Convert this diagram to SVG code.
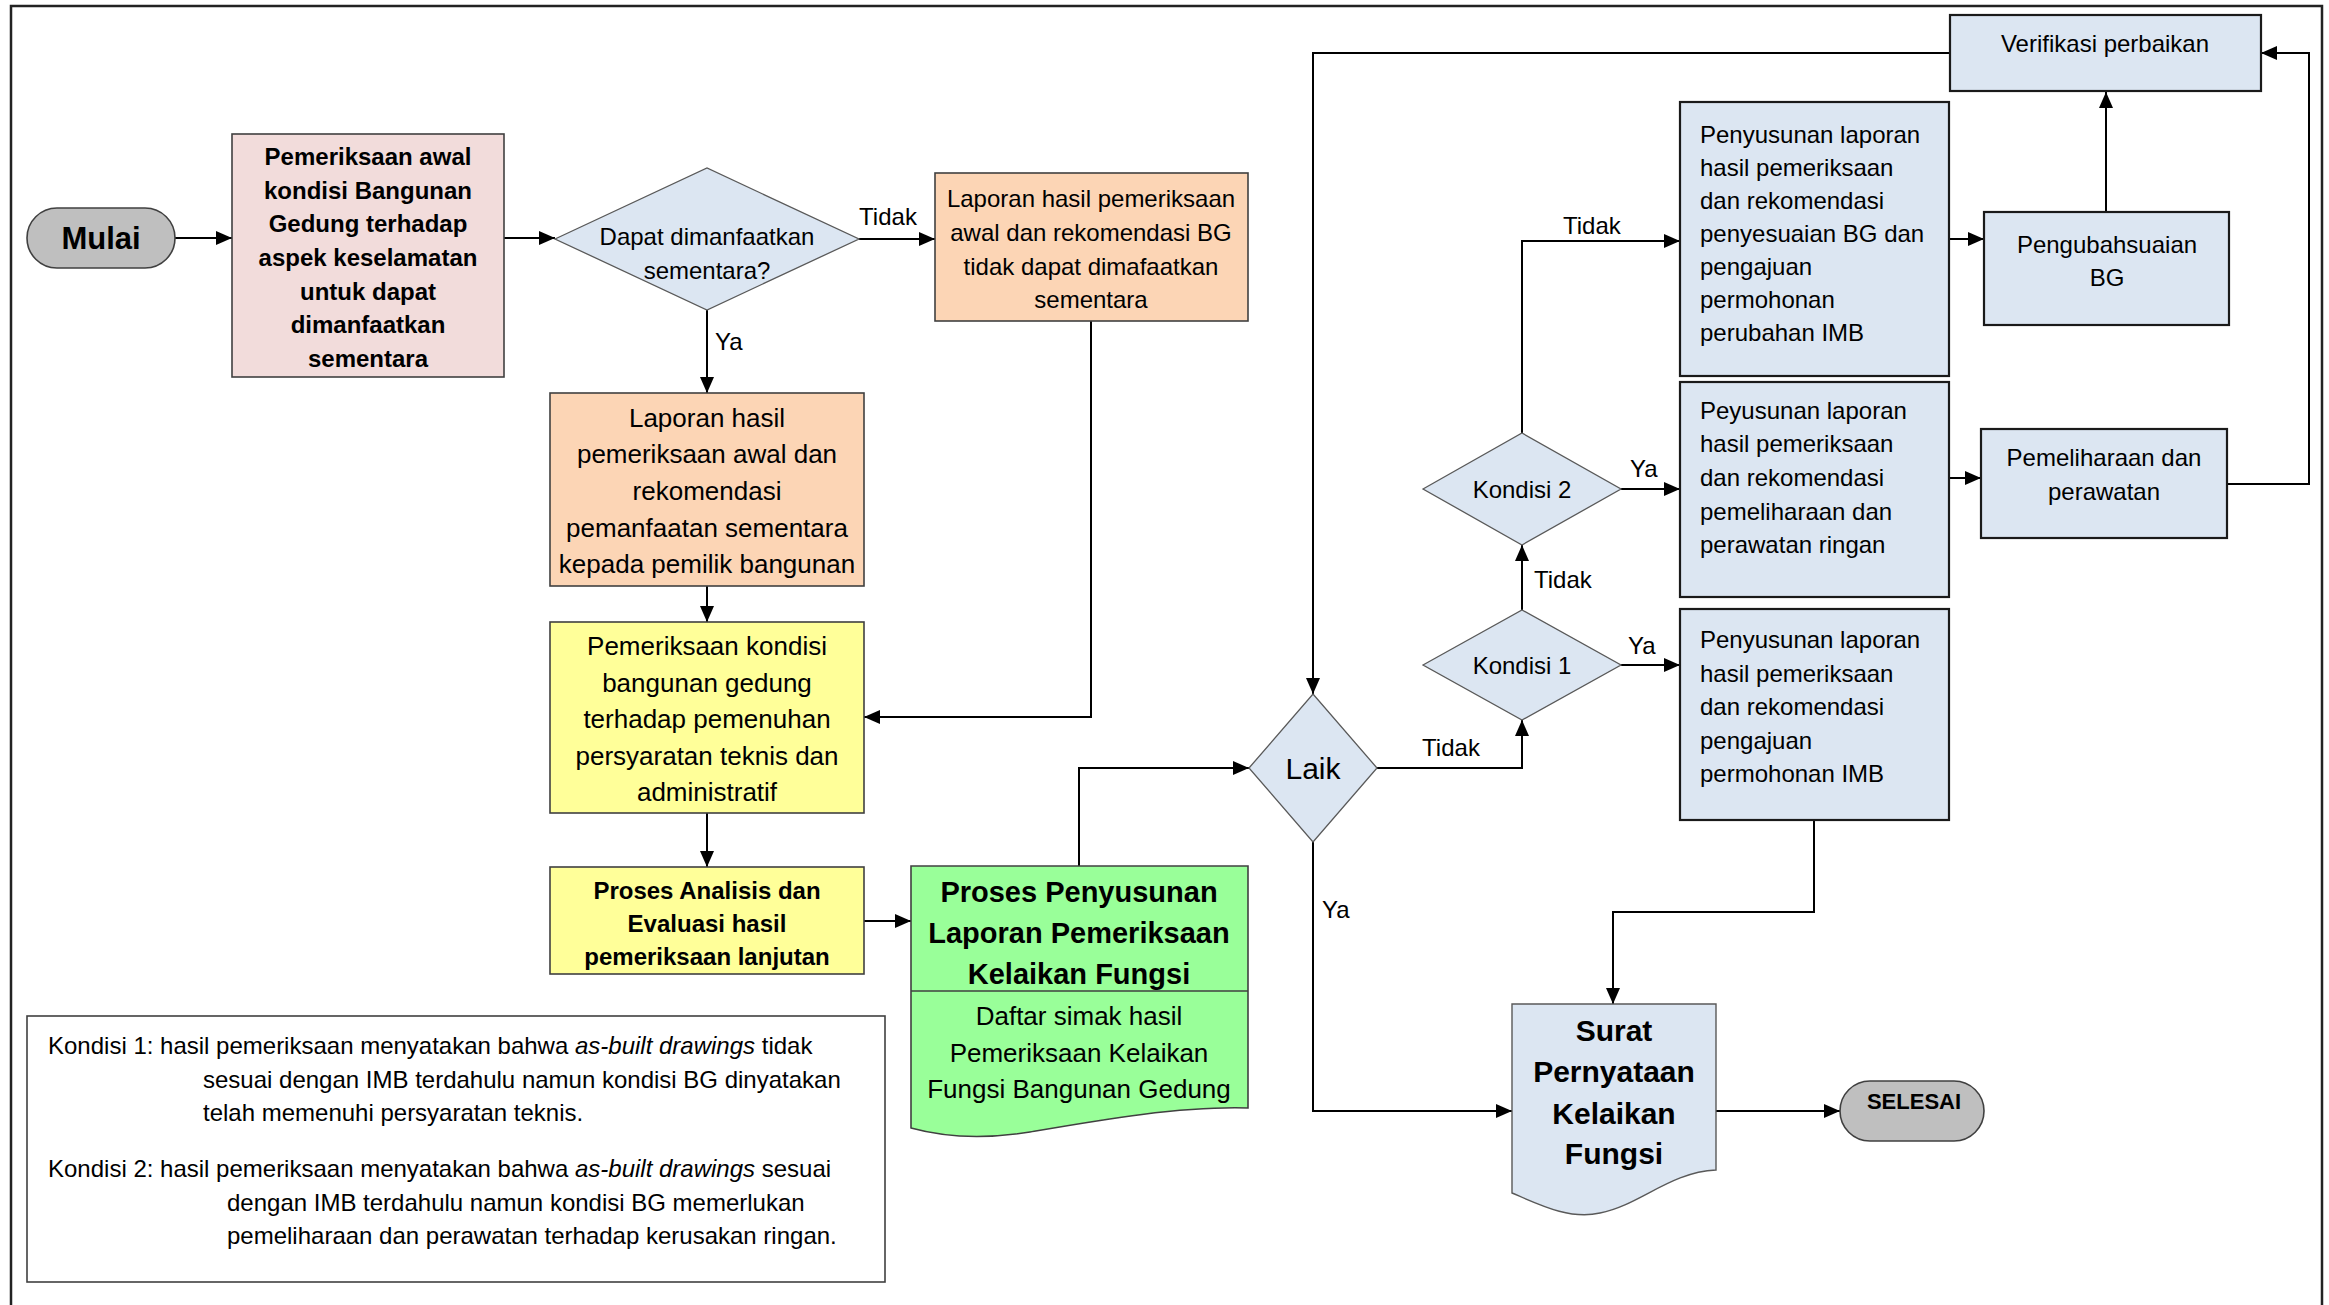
<svg xmlns="http://www.w3.org/2000/svg" width="2329" height="1305" viewBox="0 0 2329 1305">
<defs>
<marker id="ah" markerWidth="16" markerHeight="14" refX="16" refY="7" orient="auto" markerUnits="userSpaceOnUse"><path d="M0,0 L16,7 L0,14 z" fill="#000"/></marker>
<style>
text{font-family:"Liberation Sans",Arial,sans-serif;fill:#000}
.b{font-weight:bold}
.m{text-anchor:middle}
.t24{font-size:24px}
.t26{font-size:26px}
.box{stroke:#404040;stroke-width:1.6}
.dbox{stroke:#1a1a1a;stroke-width:2.2;fill:#DCE6F2}
.dia{fill:#DCE6F2;stroke:#595959;stroke-width:1.3}
.conn path{fill:none;stroke:#000;stroke-width:2}
.arr{marker-end:url(#ah)}
.pill{fill:#BFBFBF;stroke:#404040;stroke-width:1.6}
</style>
</defs>
<rect width="2329" height="1305" fill="#fff"/>
<path d="M11,1320 V6 H2322 V1320" fill="none" stroke="#222" stroke-width="2.5"/>

<g class="conn">
<path class="arr" d="M175,238 H232"/>
<path class="arr" d="M504,238 H555"/>
<path class="arr" d="M859,239 H935"/>
<path class="arr" d="M707,310 V393"/>
<path class="arr" d="M707,586 V622"/>
<path class="arr" d="M1091,321 V717 H864"/>
<path class="arr" d="M707,813 V867"/>
<path class="arr" d="M864,921 H911"/>
<path class="arr" d="M1079,866 V768 H1249"/>
<path class="arr" d="M1377,768 H1522 V720"/>
<path class="arr" d="M1313,842 V1111 H1512"/>
<path class="arr" d="M1522,610 V545"/>
<path class="arr" d="M1522,433 V241 H1680"/>
<path class="arr" d="M1621,489 H1680"/>
<path class="arr" d="M1621,665 H1680"/>
<path class="arr" d="M1949,239 H1984"/>
<path class="arr" d="M2106,212 V92"/>
<path class="arr" d="M1949,478 H1981"/>
<path class="arr" d="M2227,484 H2309 V53 H2261"/>
<path class="arr" d="M1950,53 H1313 V694"/>
<path class="arr" d="M1814,820 V912 H1613 V1004"/>
<path class="arr" d="M1716,1111 H1840"/>
<text class="t24 m" x="888" y="225">Tidak</text>
<text class="t24" x="715" y="350">Ya</text>
<text class="t24 m" x="1451" y="756">Tidak</text>
<text class="t24" x="1322" y="918">Ya</text>
<text class="t24" x="1534" y="588">Tidak</text>
<text class="t24" x="1563" y="234">Tidak</text>
<text class="t24" x="1630" y="477">Ya</text>
<text class="t24" x="1628" y="654">Ya</text>
</g>

<g id="mulai">
<rect class="pill" x="27" y="208" width="148" height="60" rx="30"/>
<text class="b m" x="101" y="249" font-size="31">Mulai</text>
</g>

<g id="pemeriksaan-awal">
<rect class="box" x="232" y="134" width="272" height="243" fill="#F2DCDB"/>
<text class="b m t24" x="368"><tspan x="368" y="165">Pemeriksaan awal</tspan><tspan x="368" y="199">kondisi Bangunan</tspan><tspan x="368" y="232">Gedung terhadap</tspan><tspan x="368" y="266">aspek keselamatan</tspan><tspan x="368" y="300">untuk dapat</tspan><tspan x="368" y="333">dimanfaatkan</tspan><tspan x="368" y="367">sementara</tspan></text>
</g>

<g id="dapat-dimanfaatkan">
<polygon class="dia" points="555,239 707,168 859,239 707,310"/>
<text class="m t24"><tspan x="707" y="245">Dapat dimanfaatkan</tspan><tspan x="707" y="279">sementara?</tspan></text>
</g>

<g id="laporan-tidak">
<rect class="box" x="935" y="173" width="313" height="148" fill="#FCD5B5"/>
<text class="m t24"><tspan x="1091" y="207">Laporan hasil pemeriksaan</tspan><tspan x="1091" y="241">awal dan rekomendasi BG</tspan><tspan x="1091" y="275">tidak dapat dimafaatkan</tspan><tspan x="1091" y="308">sementara</tspan></text>
</g>

<g id="laporan-sementara">
<rect class="box" x="550" y="393" width="314" height="193" fill="#FCD5B5"/>
<text class="m t26"><tspan x="707" y="427">Laporan hasil</tspan><tspan x="707" y="463">pemeriksaan awal dan</tspan><tspan x="707" y="500">rekomendasi</tspan><tspan x="707" y="537">pemanfaatan sementara</tspan><tspan x="707" y="573">kepada pemilik bangunan</tspan></text>
</g>

<g id="pemeriksaan-kondisi">
<rect class="box" x="550" y="622" width="314" height="191" fill="#FFFF99"/>
<text class="m t26"><tspan x="707" y="655">Pemeriksaan kondisi</tspan><tspan x="707" y="692">bangunan gedung</tspan><tspan x="707" y="728">terhadap pemenuhan</tspan><tspan x="707" y="765">persyaratan teknis dan</tspan><tspan x="707" y="801">administratif</tspan></text>
</g>

<g id="proses-analisis">
<rect class="box" x="550" y="867" width="314" height="107" fill="#FFFF99"/>
<text class="b m t24"><tspan x="707" y="899">Proses Analisis dan</tspan><tspan x="707" y="932">Evaluasi hasil</tspan><tspan x="707" y="965">pemeriksaan lanjutan</tspan></text>
</g>

<g id="proses-penyusunan">
<path class="box" d="M911,866 H1248 V1108 C1180,1106 1100,1120 1030,1132 C980,1140 940,1136 911,1128 Z" fill="#99FF99"/>
<path d="M911,991 H1248" stroke="#404040" stroke-width="1.6"/>
<text class="b m" font-size="29"><tspan x="1079" y="902">Proses Penyusunan</tspan><tspan x="1079" y="943">Laporan Pemeriksaan</tspan><tspan x="1079" y="984">Kelaikan Fungsi</tspan></text>
<text class="m t26"><tspan x="1079" y="1025">Daftar simak hasil</tspan><tspan x="1079" y="1062">Pemeriksaan Kelaikan</tspan><tspan x="1079" y="1098">Fungsi Bangunan Gedung</tspan></text>
</g>

<g id="laik">
<polygon class="dia" points="1249,768 1313,694 1377,768 1313,842"/>
<text class="m" x="1313" y="779" font-size="30">Laik</text>
</g>

<g id="kondisi-1">
<polygon class="dia" points="1423,665 1522,610 1621,665 1522,720"/>
<text class="m t24" x="1522" y="674">Kondisi 1</text>
</g>

<g id="kondisi-2">
<polygon class="dia" points="1423,489 1522,433 1621,489 1522,545"/>
<text class="m t24" x="1522" y="498">Kondisi 2</text>
</g>

<g id="penyusunan-perubahan">
<rect class="dbox" x="1680" y="102" width="269" height="274"/>
<text class="t24"><tspan x="1700" y="143">Penyusunan laporan</tspan><tspan x="1700" y="176">hasil pemeriksaan</tspan><tspan x="1700" y="209">dan rekomendasi</tspan><tspan x="1700" y="242">penyesuaian BG dan</tspan><tspan x="1700" y="275">pengajuan</tspan><tspan x="1700" y="308">permohonan</tspan><tspan x="1700" y="341">perubahan IMB</tspan></text>
</g>

<g id="peyusunan-pemeliharaan">
<rect class="dbox" x="1680" y="382" width="269" height="215"/>
<text class="t24"><tspan x="1700" y="419">Peyusunan laporan</tspan><tspan x="1700" y="452">hasil pemeriksaan</tspan><tspan x="1700" y="486">dan rekomendasi</tspan><tspan x="1700" y="520">pemeliharaan dan</tspan><tspan x="1700" y="553">perawatan ringan</tspan></text>
</g>

<g id="penyusunan-imb">
<rect class="dbox" x="1680" y="609" width="269" height="211"/>
<text class="t24"><tspan x="1700" y="648">Penyusunan laporan</tspan><tspan x="1700" y="682">hasil pemeriksaan</tspan><tspan x="1700" y="715">dan rekomendasi</tspan><tspan x="1700" y="749">pengajuan</tspan><tspan x="1700" y="782">permohonan IMB</tspan></text>
</g>

<g id="pengubahsuaian">
<rect class="dbox" x="1984" y="212" width="245" height="113"/>
<text class="m t24"><tspan x="2107" y="253">Pengubahsuaian</tspan><tspan x="2107" y="286">BG</tspan></text>
</g>

<g id="verifikasi">
<rect class="dbox" x="1950" y="15" width="311" height="76"/>
<text class="m t24" x="2105" y="52">Verifikasi perbaikan</text>
</g>

<g id="pemeliharaan">
<rect class="dbox" x="1981" y="429" width="246" height="109"/>
<text class="m t24"><tspan x="2104" y="466">Pemeliharaan dan</tspan><tspan x="2104" y="500">perawatan</tspan></text>
</g>

<g id="surat">
<path d="M1512,1004 H1716 V1170 C1670,1172 1640,1205 1600,1213 C1570,1220 1540,1205 1512,1193 Z" fill="#DCE6F2" stroke="#595959" stroke-width="1.4"/>
<text class="b m" font-size="30"><tspan x="1614" y="1041">Surat</tspan><tspan x="1614" y="1082">Pernyataan</tspan><tspan x="1614" y="1124">Kelaikan</tspan><tspan x="1614" y="1164">Fungsi</tspan></text>
</g>

<g id="selesai">
<rect class="pill" x="1840" y="1081" width="144" height="60" rx="30"/>
<text class="b m" x="1914" y="1109" font-size="22">SELESAI</text>
</g>

<g id="legend">
<rect x="27" y="1016" width="858" height="266" fill="#fff" stroke="#404040" stroke-width="1.6"/>
<text class="t24"><tspan x="48" y="1054">Kondisi 1: hasil pemeriksaan menyatakan bahwa <tspan font-style="italic">as-built drawings</tspan> tidak</tspan><tspan x="203" y="1088">sesuai dengan IMB terdahulu namun kondisi BG dinyatakan</tspan><tspan x="203" y="1121">telah memenuhi persyaratan teknis.</tspan><tspan x="48" y="1177">Kondisi 2: hasil pemeriksaan menyatakan bahwa <tspan font-style="italic">as-built drawings</tspan> sesuai</tspan><tspan x="227" y="1211">dengan IMB terdahulu namun kondisi BG memerlukan</tspan><tspan x="227" y="1244">pemeliharaan dan perawatan terhadap kerusakan ringan.</tspan></text>
</g>
</svg>
